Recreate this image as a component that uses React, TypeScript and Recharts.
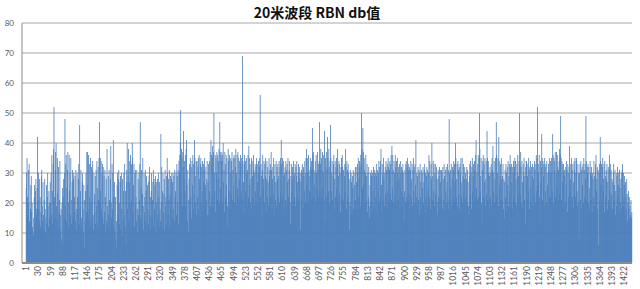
import { BarChart, Bar, XAxis, YAxis, CartesianGrid } from 'recharts';

// RBN db readings per row (one row per x label step)
const dbRows: number[][] = [
  [25,30,35,22,16,31,20,33,14,12,18,26,29,17,20,12,10,9,15,22,26,13,24,28,16,18,25,42,21],
  [30,18,14,28,22,12,17,29,31,19,14,27,16,11,21,28,18,10,15,26,13,22,30,19,12,24,15,20,27],
  [20,30,16,36,24,13,33,38,52,22,15,31,37,40,19,14,35,23,12,32,17,21,34,16,11,18,8,20,25],
  [6,22,28,15,30,48,19,33,36,14,25,31,37,20,12,36,24,30,16,35,21,13,27,31,15,28,30,17,22],
  [29,14,31,18,11,30,22,16,28,33,13,46,19,24,31,15,12,27,30,18,10,26,21,5,14,24,30,17,37],
  [26,37,18,36,15,33,22,12,35,20,32,14,31,34,16,11,30,23,17,29,13,31,19,34,25,12,32,21,35],
  [47,20,35,24,34,18,30,33,15,32,13,29,17,31,22,10,28,14,38,19,12,29,16,31,21,11,28,39,20],
  [15,33,18,30,41,22,12,27,10,22,8,5,14,26,30,16,28,31,13,20,27,29,11,30,18,9,28,14,24],
  [30,16,33,12,24,6,27,31,40,18,29,38,14,27,34,20,36,12,33,21,40,35,17,26,33,12,30,20,31],
  [22,14,31,18,10,28,16,30,21,33,47,15,25,31,13,23,35,19,11,30,17,22,31,14,24,29,12,26,18],
  [27,13,29,32,16,22,11,24,30,15,21,27,31,12,28,18,26,29,10,27,20,14,28,16,30,22,12,27,18],
  [14,43,20,32,12,24,30,17,23,28,11,31,19,22,29,13,35,30,16,28,21,31,12,23,29,18,28,30,15],
  [27,30,18,29,14,31,22,24,30,16,33,29,20,31,13,34,30,36,40,51,24,38,35,19,37,32,44,28,34],
  [24,36,19,38,41,26,14,31,21,10,28,33,17,35,22,32,15,34,26,36,18,33,23,41,35,20,29,34,16],
  [34,22,32,35,18,36,28,15,33,35,20,32,24,34,17,33,27,31,35,19,26,32,21,28,34,16,27,33,16],
  [24,34,37,19,41,36,22,35,39,18,37,50,30,24,36,17,35,30,37,21,36,28,34,38,20,47,37,25,36],
  [34,37,20,36,40,27,31,17,37,33,22,36,26,35,19,12,38,34,24,36,18,30,35,23,34,37,21,31,35],
  [26,36,20,35,32,38,19,30,36,25,37,22,35,28,34,18,36,33,24,35,21,69,34,27,17,33,36,22,34],
  [24,35,30,19,31,36,22,39,35,26,33,20,28,35,18,34,29,22,36,31,19,30,33,24,32,35,20,33,27],
  [30,34,19,32,35,56,22,33,29,16,31,36,25,28,34,20,33,29,35,17,28,34,22,32,27,19,35,29,31],
  [33,22,37,31,18,28,32,23,35,16,29,33,21,27,34,19,32,28,33,22,29,34,20,32,35,24,41,33,21],
  [35,23,34,29,18,30,32,21,34,31,19,33,27,35,22,28,31,34,20,13,29,33,24,28,32,19,34,29,22],
  [30,33,19,32,29,34,22,27,30,33,20,32,28,30,11,27,31,21,33,30,18,32,29,24,34,30,20,35,38],
  [26,35,30,20,36,31,24,29,35,32,21,34,31,45,36,22,37,31,26,30,34,20,36,30,25,37,31,22,33],
  [34,47,24,33,38,22,35,31,37,25,30,36,21,44,14,35,32,37,22,31,42,35,24,38,32,20,34,46,35],
  [24,30,34,21,29,33,36,18,28,34,22,32,35,25,33,38,20,29,34,23,33,30,17,32,35,22,36,32,21],
  [31,20,29,33,24,38,32,18,34,31,22,33,30,20,11,28,31,19,30,27,16,29,25,31,18,30,26,21,32],
  [21,32,27,18,33,30,35,22,28,34,32,19,36,33,50,38,25,45,37,26,35,31,20,30,36,21,29,33,17],
  [30,22,32,19,15,26,30,20,31,29,17,30,24,32,19,29,31,18,30,22,33,29,16,31,24,30,34,20,32],
  [22,34,38,26,17,33,30,21,35,28,19,30,32,23,34,31,18,33,24,35,32,20,31,34,23,33,36,21,39],
  [25,36,31,20,34,30,22,36,32,19,34,27,35,30,21,32,28,33,18,34,30,24,32,19,31,33,22,30,14],
  [24,31,20,33,34,22,32,35,20,31,33,23,32,18,31,34,22,28,33,19,31,35,24,32,20,33,26,41,22],
  [30,19,29,32,21,31,16,30,33,22,27,31,18,30,25,32,20,27,31,33,17,30,22,29,32,19,31,24,30],
  [36,22,34,29,18,33,28,40,21,29,34,24,33,19,30,33,23,29,32,20,16,28,31,22,29,32,19,27,31],
  [22,31,30,18,32,28,21,33,29,17,31,24,32,20,27,33,22,31,18,48,30,21,31,25,33,19,28,32,22],
  [31,34,20,33,27,40,35,22,28,33,19,34,31,23,32,18,33,30,35,22,27,35,20,29,33,24,28,32,21],
  [30,22,28,32,20,31,27,19,16,29,33,23,34,30,18,32,35,24,29,33,20,34,31,22,36,41,25,30,21],
  [33,36,22,35,50,38,24,29,35,20,13,31,34,36,22,33,27,35,19,28,34,23,44,35,21,34,30,18,29],
  [32,22,30,33,19,35,31,39,24,30,34,20,28,35,23,47,36,22,30,35,19,42,34,26,29,33,21,35,28],
  [21,29,33,18,28,15,27,31,22,33,30,17,32,26,34,19,29,33,24,36,32,20,33,27,18,32,30,34,22],
  [32,35,20,34,28,19,33,30,36,22,29,34,50,33,23,37,32,20,34,27,18,33,30,35,21,29,13,32,34],
  [34,21,29,33,24,35,32,18,31,34,25,20,32,29,33,19,28,32,23,34,31,20,33,36,24,35,52,26,30],
  [33,36,22,13,34,27,32,43,35,21,34,29,33,19,35,32,24,33,20,34,30,26,19,33,31,35,22,30,34],
  [22,35,30,24,43,36,20,35,31,34,37,22,30,37,25,36,32,21,31,34,38,23,36,49,35,21,34,27,33],
  [30,33,18,31,29,20,32,26,34,31,17,33,30,22,32,39,24,28,33,19,35,31,22,33,27,18,34,31,35],
  [22,30,34,35,24,19,33,30,20,8,30,33,21,34,31,18,32,26,33,20,35,31,22,33,28,49,34,21,32],
  [30,33,20,32,25,18,34,30,21,32,29,17,30,28,22,34,29,19,30,33,36,24,28,32,18,31,6,30,33],
  [21,42,34,26,33,19,32,35,24,28,33,17,34,29,22,31,28,33,18,27,32,21,31,36,24,33,19,31,23],
  [28,18,27,30,33,21,26,31,16,24,30,19,29,32,22,26,30,17,31,25,20,28,30,18,31,33,22,30,19],
  [26,29,16,27,22,18,28,23,14,20,24,18,22,15,19,16,21,15,17],
];

const yTicks = [0, 10, 20, 30, 40, 50, 60, 70, 80];

const dbValues = dbRows.flat();
const categories = dbValues.map((_, i) => String(i + 1));
const data = categories.map((name, i) => ({ name, db: dbValues[i] }));

const XTick = (props: any) => {
  const { x, y, payload } = props;
  return (
    <text
      x={x}
      y={y}
      dy="0.35em"
      textAnchor="end"
      transform={`rotate(-90, ${x}, ${y})`}
      fill="#595959"
      fontSize={8.5}
      fontFamily="Lato, 'Liberation Sans', sans-serif"
    >
      {payload.value}
    </text>
  );
};

// thin bars get widened a little so neighbours overlap like the Excel render
const WideBar = (props: any) => {
  const { x, y, width, height, fill } = props;
  if (!height || height <= 0) return null;
  const w = 0.8;
  return <rect x={x + width / 2 - w / 2} y={y} width={w} height={height} fill={fill} />;
};

export default function App() {
  return (
    <div style={{ position: 'absolute', left: 0, top: 0, width: 640, height: 289, background: '#fff' }}>
      <div
        style={{
          position: 'absolute',
          left: 0,
          width: 640,
          top: 2,
          textAlign: 'center',
          fontFamily: "'Noto Sans CJK SC', sans-serif",
          fontWeight: 700,
          fontSize: 14,
          lineHeight: '20px',
          color: '#111',
        }}
      >
        <span style={{ position: 'relative', left: -3 }}>20米波段 RBN db值</span>
      </div>
      <BarChart
        width={640}
        height={289}
        data={data}
        margin={{ top: 23, right: 8, left: 0, bottom: 0 }}
        barCategoryGap={0}
        barGap={0}
      >
        <CartesianGrid vertical={false} stroke="#a8a8a8" />
        <XAxis
          dataKey="name"
          interval={28}
          height={26}
          padding={{ left: 4, right: 0 }}
          tickLine={false}
          tickSize={1}
          tickMargin={2}
          axisLine={{ stroke: '#8c8c8c', strokeWidth: 2 }}
          tick={<XTick />}
        />
        <YAxis
          width={22}
          domain={[0, 80]}
          ticks={yTicks}
          interval={0}
          tickLine={false}
          axisLine={{ stroke: '#8c8c8c' }}
          tick={{ fill: '#595959', fontSize: 8, fontFamily: "Lato, 'Liberation Sans', sans-serif" }}
        />
        <Bar dataKey="db" fill="#4a7ebb" shape={WideBar} isAnimationActive={false} />
      </BarChart>
    </div>
  );
}
